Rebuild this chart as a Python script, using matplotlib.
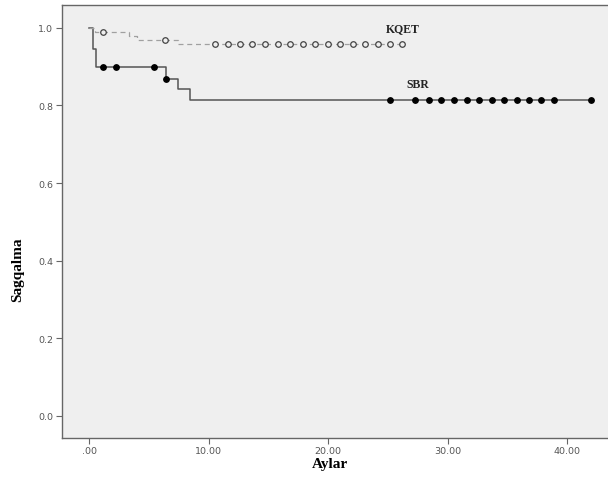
import numpy as np
import matplotlib
matplotlib.use('Agg')
import matplotlib.pyplot as plt
from matplotlib.ticker import FixedLocator, FixedFormatter

# Kaplan-Meier steps
sbr_t = [0, 0.3, 0.55, 6.38, 7.4, 8.42, 42.0]
sbr_s = [1.0, 0.946, 0.90, 0.869, 0.843, 0.813, 0.813]
sbr_cens = [1.1, 2.2, 5.4, 6.4, 25.2, 27.3, 28.4, 29.4, 30.5, 31.6, 32.6,
            33.7, 34.7, 35.8, 36.8, 37.8, 38.9, 42.0]

kqet_t = [0, 0.5, 3.3, 4.0, 7.45, 26.2]
kqet_s = [1.0, 0.988, 0.978, 0.969, 0.959, 0.959]
kqet_cens = [1.1, 6.35, 10.5, 11.6, 12.6, 13.6, 14.7, 15.8, 16.8, 17.9,
             18.9, 20.0, 21.0, 22.1, 23.1, 24.2, 25.2, 26.2]

xticks = [0, 10, 20, 30, 40]
xticklabels = ['.00', '10.00', '20.00', '30.00', '40.00']
yticks = [0.0, 0.2, 0.4, 0.6, 0.8, 1.0]
yticklabels = ['0.0', '0.2', '0.4', '0.6', '0.8', '1.0']


def surv_at(t, s, x):
    idx = np.searchsorted(t, x, side='right') - 1
    return np.array(s)[idx]


fig = plt.figure(figsize=(6.08, 4.81), dpi=100)
ax = fig.add_axes([0.1015, 0.0873, 0.9, 0.9002])
ax.set_facecolor('#efefef')

ax.step(sbr_t, sbr_s, where='post', color='#555555', lw=1.1)
ax.plot(sbr_cens, surv_at(sbr_t, sbr_s, sbr_cens), 'o', color='black',
        ms=3.9, ls='none')

ax.step(kqet_t, kqet_s, where='post', color='#a0a0a0', lw=0.9,
        ls=(0, (4, 3)))
ax.plot(kqet_cens, surv_at(kqet_t, kqet_s, kqet_cens), 'o', mfc='#efefef',
        mec='#444444', mew=0.9, ms=4.0, ls='none')

ax.text(26.2, 1.0, 'KQET', family='Liberation Serif', weight='bold',
        fontsize=8.5, ha='center', va='center', color='#222222')
ax.text(27.5, 0.854, 'SBR', family='Liberation Serif', weight='bold',
        fontsize=8.5, ha='center', va='center', color='#222222')

ax.set_xlim(-2.32, 43.5)
ax.set_ylim(-0.0567, 1.0585)

ax.xaxis.set_major_locator(FixedLocator(xticks))
ax.xaxis.set_major_formatter(FixedFormatter(xticklabels))
ax.yaxis.set_major_locator(FixedLocator(yticks))
ax.yaxis.set_major_formatter(FixedFormatter(yticklabels))
ax.tick_params(direction='out', length=4, width=0.8, color='#666666',
               labelsize=6.8, labelcolor='#555555', pad=2)

for side in ['left', 'top', 'bottom']:
    ax.spines[side].set_color('#666666')
    ax.spines[side].set_linewidth(1.0)
ax.spines['right'].set_visible(False)

ax.text(0.491, -0.058, 'Aylar', transform=ax.transAxes, ha='center',
        va='center', family='Liberation Serif', weight='bold', fontsize=11)
ax.text(-0.08, 0.39, 'Sagqalma', transform=ax.transAxes, ha='center',
        va='center', rotation=90, family='Liberation Serif', weight='bold',
        fontsize=11)

fig.savefig('out.png', dpi=100)
